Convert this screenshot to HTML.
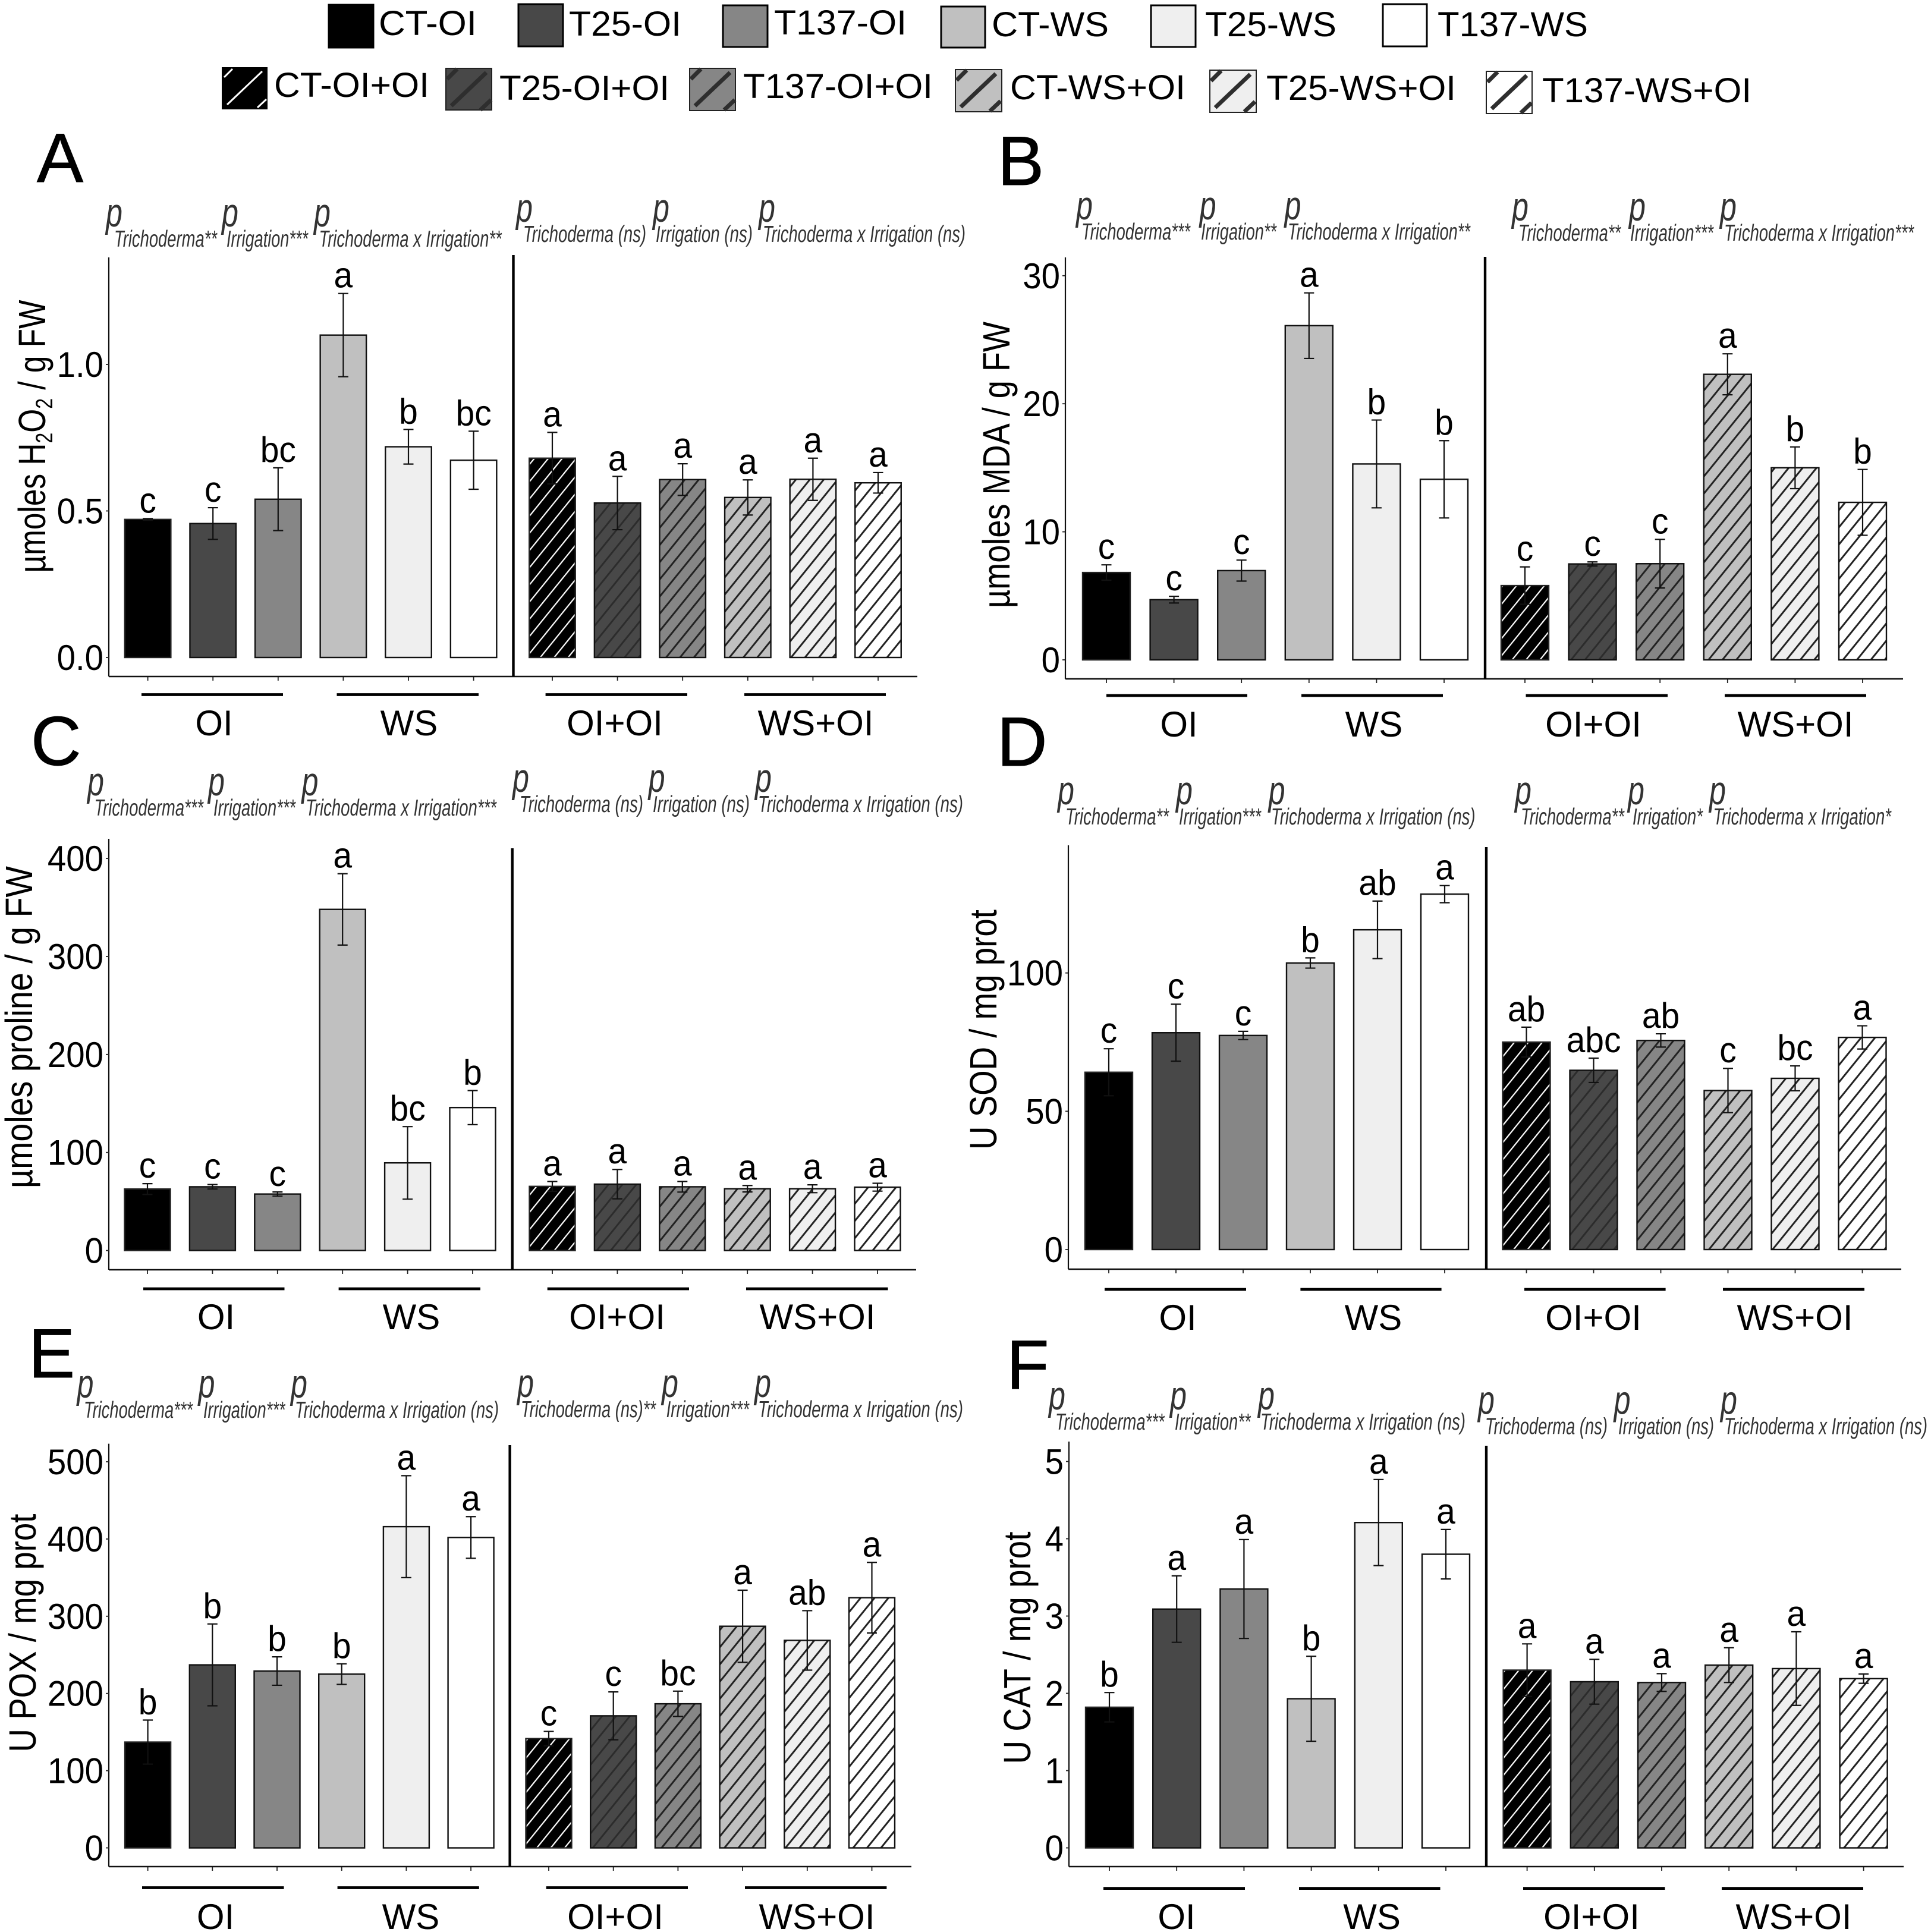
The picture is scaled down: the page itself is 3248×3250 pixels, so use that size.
<!DOCTYPE html>
<html lang="en">
<head>
<meta charset="utf-8">
<title>Trichoderma and irrigation effects on oxidative stress markers</title>
<style>
html,body{margin:0;padding:0;background:#fff;}
svg{display:block;}
text{font-family:"Liberation Sans",Arial,sans-serif;fill:#000;}
.lg{font-size:58px;}
.pl{font-size:68px;font-style:italic;fill:#333;}
.sb{font-size:39px;font-style:italic;fill:#333;}
.pn{font-size:117px;stroke:#000;stroke-width:1px;}
.yt{font-size:64px;text-anchor:middle;}
</style>
</head>
<body>
<svg id="figure" xmlns="http://www.w3.org/2000/svg" width="3248" height="3250" viewBox="0 0 3248 3250">
<rect x="0" y="0" width="3248" height="3250" fill="#fff"/>
<defs id="defs"></defs>

<g>
<g><rect x="553" y="8" width="75" height="72" fill="#000" stroke="#000" stroke-width="3"/><text class="lg" x="637" y="59" textLength="165" lengthAdjust="spacingAndGlyphs">CT-OI</text></g>
<g><rect x="872" y="7" width="75" height="71" fill="#484848" stroke="#000" stroke-width="3"/><text class="lg" x="957" y="60" textLength="189" lengthAdjust="spacingAndGlyphs">T25-OI</text></g>
<g><rect x="1216" y="9" width="75" height="70" fill="#868686" stroke="#000" stroke-width="3"/><text class="lg" x="1302" y="58" textLength="223" lengthAdjust="spacingAndGlyphs">T137-OI</text></g>
<g><rect x="1583" y="11" width="74" height="69" fill="#c0c0c0" stroke="#000" stroke-width="3"/><text class="lg" x="1668" y="61" textLength="197" lengthAdjust="spacingAndGlyphs">CT-WS</text></g>
<g><rect x="1936" y="9" width="75" height="70" fill="#efefef" stroke="#000" stroke-width="3"/><text class="lg" x="2027" y="61" textLength="221" lengthAdjust="spacingAndGlyphs">T25-WS</text></g>
<g><rect x="2326" y="7" width="74" height="71" fill="#fff" stroke="#000" stroke-width="3"/><text class="lg" x="2418" y="61" textLength="253" lengthAdjust="spacingAndGlyphs">T137-WS</text></g>

<g><g transform="translate(373,113)"><rect width="77" height="71" fill="#000"/><g stroke="#fff" stroke-width="3"><line x1="9" y1="63" x2="68" y2="7"/><line x1="4" y1="17" x2="18" y2="3"/><line x1="60" y1="68" x2="75" y2="54"/></g></g><text class="lg" x="461" y="163" textLength="261" lengthAdjust="spacingAndGlyphs">CT-OI+OI</text></g>
<g><g transform="translate(750,115)"><rect width="77" height="70" fill="#484848" stroke="#222" stroke-width="2"/><g stroke="#2e2e2e" stroke-width="7"><line x1="9" y1="63" x2="68" y2="7"/><line x1="2" y1="18" x2="19" y2="1"/><line x1="58" y1="70" x2="76" y2="53"/></g></g><text class="lg" x="840" y="168" textLength="286" lengthAdjust="spacingAndGlyphs">T25-OI+OI</text></g>
<g><g transform="translate(1160,115)"><rect width="77" height="71" fill="#868686" stroke="#222" stroke-width="2"/><g stroke="#2e2e2e" stroke-width="7"><line x1="9" y1="63" x2="68" y2="7"/><line x1="2" y1="18" x2="19" y2="1"/><line x1="58" y1="70" x2="76" y2="53"/></g></g><text class="lg" x="1250" y="165" textLength="319" lengthAdjust="spacingAndGlyphs">T137-OI+OI</text></g>
<g><g transform="translate(1607,117)"><rect width="78" height="71" fill="#c0c0c0" stroke="#222" stroke-width="2"/><g stroke="#2e2e2e" stroke-width="7"><line x1="9" y1="63" x2="68" y2="7"/><line x1="2" y1="18" x2="19" y2="1"/><line x1="58" y1="70" x2="76" y2="53"/></g></g><text class="lg" x="1699" y="167" textLength="295" lengthAdjust="spacingAndGlyphs">CT-WS+OI</text></g>
<g><g transform="translate(2035,118)"><rect width="78" height="71" fill="#efefef" stroke="#222" stroke-width="2"/><g stroke="#2e2e2e" stroke-width="7"><line x1="9" y1="63" x2="68" y2="7"/><line x1="2" y1="18" x2="19" y2="1"/><line x1="58" y1="70" x2="76" y2="53"/></g></g><text class="lg" x="2130" y="168" textLength="319" lengthAdjust="spacingAndGlyphs">T25-WS+OI</text></g>
<g><g transform="translate(2500,120)"><rect width="77" height="71" fill="#fff" stroke="#222" stroke-width="2"/><g stroke="#2e2e2e" stroke-width="7"><line x1="9" y1="63" x2="68" y2="7"/><line x1="2" y1="18" x2="19" y2="1"/><line x1="58" y1="70" x2="76" y2="53"/></g></g><text class="lg" x="2594" y="172" textLength="352" lengthAdjust="spacingAndGlyphs">T137-WS+OI</text></g>
</g>

<text class="pn" x="62" y="306">A</text>
<text class="pn" x="1678" y="311">B</text>
<text class="pn" x="52" y="1287">C</text>
<text class="pn" x="1677" y="1288">D</text>
<text class="pn" x="48" y="2317">E</text>
<text class="pn" x="1693" y="2336">F</text>

<text class="yt" id="title-a" data-length="459" transform="translate(76,734) rotate(-90)">µmoles H<tspan dy="12" font-size="40">2</tspan><tspan dy="-12">O</tspan><tspan dy="12" font-size="40">2</tspan><tspan dy="-12"> / g FW</tspan></text>
<text class="yt" id="title-b" data-length="482" transform="translate(1698,782) rotate(-90)">µmoles MDA / g FW</text>
<text class="yt" id="title-c" data-length="542" transform="translate(54,1728) rotate(-90)">µmoles proline / g FW</text>
<text class="yt" id="title-d" data-length="404" transform="translate(1676,1732) rotate(-90)">U SOD / mg prot</text>
<text class="yt" id="title-e" data-length="401" transform="translate(60,2747) rotate(-90)">U POX / mg prot</text>
<text class="yt" id="title-f" data-length="391" transform="translate(1733,2772) rotate(-90)">U CAT / mg prot</text>

<g>
<g><text class="pl" x="178" y="381" textLength="28" lengthAdjust="spacingAndGlyphs">p</text><text class="sb" x="192" y="415" textLength="173" lengthAdjust="spacingAndGlyphs">Trichoderma**</text></g>
<g><text class="pl" x="373" y="381" textLength="28" lengthAdjust="spacingAndGlyphs">p</text><text class="sb" x="381" y="415" textLength="137" lengthAdjust="spacingAndGlyphs">Irrigation***</text></g>
<g><text class="pl" x="528" y="381" textLength="28" lengthAdjust="spacingAndGlyphs">p</text><text class="sb" x="536.6" y="415" textLength="307" lengthAdjust="spacingAndGlyphs">Trichoderma x Irrigation**</text></g>
<g><text class="pl" x="868" y="373" textLength="28" lengthAdjust="spacingAndGlyphs">p</text><text class="sb" x="880" y="407" textLength="207" lengthAdjust="spacingAndGlyphs">Trichoderma (ns)</text></g>
<g><text class="pl" x="1098" y="373" textLength="28" lengthAdjust="spacingAndGlyphs">p</text><text class="sb" x="1103" y="407" textLength="163" lengthAdjust="spacingAndGlyphs">Irrigation (ns)</text></g>
<g><text class="pl" x="1276" y="373" textLength="28" lengthAdjust="spacingAndGlyphs">p</text><text class="sb" x="1283" y="407" textLength="341" lengthAdjust="spacingAndGlyphs">Trichoderma x Irrigation (ns)</text></g>
</g>
<g>
<g><text class="pl" x="1810" y="369" textLength="28" lengthAdjust="spacingAndGlyphs">p</text><text class="sb" x="1819" y="403" textLength="183" lengthAdjust="spacingAndGlyphs">Trichoderma***</text></g>
<g><text class="pl" x="2017.6" y="369" textLength="28" lengthAdjust="spacingAndGlyphs">p</text><text class="sb" x="2020" y="403" textLength="127" lengthAdjust="spacingAndGlyphs">Irrigation**</text></g>
<g><text class="pl" x="2160.5" y="369" textLength="28" lengthAdjust="spacingAndGlyphs">p</text><text class="sb" x="2166" y="403" textLength="307" lengthAdjust="spacingAndGlyphs">Trichoderma x Irrigation**</text></g>
<g><text class="pl" x="2543" y="371" textLength="28" lengthAdjust="spacingAndGlyphs">p</text><text class="sb" x="2554" y="405" textLength="172" lengthAdjust="spacingAndGlyphs">Trichoderma**</text></g>
<g><text class="pl" x="2740" y="371" textLength="28" lengthAdjust="spacingAndGlyphs">p</text><text class="sb" x="2742" y="405" textLength="140" lengthAdjust="spacingAndGlyphs">Irrigation***</text></g>
<g><text class="pl" x="2893" y="371" textLength="28" lengthAdjust="spacingAndGlyphs">p</text><text class="sb" x="2900" y="405" textLength="319" lengthAdjust="spacingAndGlyphs">Trichoderma x Irrigation***</text></g>
</g>
<g>
<g><text class="pl" x="147" y="1338" textLength="28" lengthAdjust="spacingAndGlyphs">p</text><text class="sb" x="158.5" y="1372" textLength="183.5" lengthAdjust="spacingAndGlyphs">Trichoderma***</text></g>
<g><text class="pl" x="350" y="1338" textLength="28" lengthAdjust="spacingAndGlyphs">p</text><text class="sb" x="359" y="1372" textLength="138" lengthAdjust="spacingAndGlyphs">Irrigation***</text></g>
<g><text class="pl" x="507.5" y="1338" textLength="28" lengthAdjust="spacingAndGlyphs">p</text><text class="sb" x="514" y="1372" textLength="321" lengthAdjust="spacingAndGlyphs">Trichoderma x Irrigation***</text></g>
<g><text class="pl" x="862" y="1332" textLength="28" lengthAdjust="spacingAndGlyphs">p</text><text class="sb" x="874" y="1366" textLength="208" lengthAdjust="spacingAndGlyphs">Trichoderma (ns)</text></g>
<g><text class="pl" x="1090.6" y="1332" textLength="28" lengthAdjust="spacingAndGlyphs">p</text><text class="sb" x="1098" y="1366" textLength="163" lengthAdjust="spacingAndGlyphs">Irrigation (ns)</text></g>
<g><text class="pl" x="1270" y="1332" textLength="28" lengthAdjust="spacingAndGlyphs">p</text><text class="sb" x="1275" y="1366" textLength="345" lengthAdjust="spacingAndGlyphs">Trichoderma x Irrigation (ns)</text></g>
</g>
<g>
<g><text class="pl" x="1779" y="1353" textLength="28" lengthAdjust="spacingAndGlyphs">p</text><text class="sb" x="1792" y="1387" textLength="174" lengthAdjust="spacingAndGlyphs">Trichoderma**</text></g>
<g><text class="pl" x="1978" y="1353" textLength="28" lengthAdjust="spacingAndGlyphs">p</text><text class="sb" x="1983" y="1387" textLength="138" lengthAdjust="spacingAndGlyphs">Irrigation***</text></g>
<g><text class="pl" x="2133.6" y="1353" textLength="28" lengthAdjust="spacingAndGlyphs">p</text><text class="sb" x="2138" y="1387" textLength="343.6" lengthAdjust="spacingAndGlyphs">Trichoderma x Irrigation (ns)</text></g>
<g><text class="pl" x="2548" y="1353" textLength="28" lengthAdjust="spacingAndGlyphs">p</text><text class="sb" x="2558" y="1387" textLength="174" lengthAdjust="spacingAndGlyphs">Trichoderma**</text></g>
<g><text class="pl" x="2738" y="1353" textLength="28" lengthAdjust="spacingAndGlyphs">p</text><text class="sb" x="2746" y="1387" textLength="118" lengthAdjust="spacingAndGlyphs">Irrigation*</text></g>
<g><text class="pl" x="2875" y="1353" textLength="28" lengthAdjust="spacingAndGlyphs">p</text><text class="sb" x="2881.5" y="1387" textLength="299.5" lengthAdjust="spacingAndGlyphs">Trichoderma x Irrigation*</text></g>
</g>
<g>
<g><text class="pl" x="129.5" y="2351" textLength="28" lengthAdjust="spacingAndGlyphs">p</text><text class="sb" x="141" y="2385" textLength="183" lengthAdjust="spacingAndGlyphs">Trichoderma***</text></g>
<g><text class="pl" x="333.5" y="2351" textLength="28" lengthAdjust="spacingAndGlyphs">p</text><text class="sb" x="342" y="2385" textLength="137.5" lengthAdjust="spacingAndGlyphs">Irrigation***</text></g>
<g><text class="pl" x="489" y="2351" textLength="28" lengthAdjust="spacingAndGlyphs">p</text><text class="sb" x="496" y="2385" textLength="343" lengthAdjust="spacingAndGlyphs">Trichoderma x Irrigation (ns)</text></g>
<g><text class="pl" x="870" y="2350" textLength="28" lengthAdjust="spacingAndGlyphs">p</text><text class="sb" x="876" y="2384" textLength="227" lengthAdjust="spacingAndGlyphs">Trichoderma (ns)**</text></g>
<g><text class="pl" x="1113" y="2350" textLength="28" lengthAdjust="spacingAndGlyphs">p</text><text class="sb" x="1120.6" y="2384" textLength="139.4" lengthAdjust="spacingAndGlyphs">Irrigation***</text></g>
<g><text class="pl" x="1269" y="2350" textLength="28" lengthAdjust="spacingAndGlyphs">p</text><text class="sb" x="1275" y="2384" textLength="345" lengthAdjust="spacingAndGlyphs">Trichoderma x Irrigation (ns)</text></g>
</g>
<g>
<g><text class="pl" x="1764" y="2371" textLength="28" lengthAdjust="spacingAndGlyphs">p</text><text class="sb" x="1775" y="2405" textLength="183.5" lengthAdjust="spacingAndGlyphs">Trichoderma***</text></g>
<g><text class="pl" x="1968" y="2371" textLength="28" lengthAdjust="spacingAndGlyphs">p</text><text class="sb" x="1976" y="2405" textLength="127.5" lengthAdjust="spacingAndGlyphs">Irrigation**</text></g>
<g><text class="pl" x="2116" y="2371" textLength="28" lengthAdjust="spacingAndGlyphs">p</text><text class="sb" x="2120" y="2405" textLength="345" lengthAdjust="spacingAndGlyphs">Trichoderma x Irrigation (ns)</text></g>
<g><text class="pl" x="2486" y="2378.6" textLength="28" lengthAdjust="spacingAndGlyphs">p</text><text class="sb" x="2498" y="2412.6" textLength="206" lengthAdjust="spacingAndGlyphs">Trichoderma (ns)</text></g>
<g><text class="pl" x="2714.6" y="2378.6" textLength="28" lengthAdjust="spacingAndGlyphs">p</text><text class="sb" x="2722" y="2412.6" textLength="161" lengthAdjust="spacingAndGlyphs">Irrigation (ns)</text></g>
<g><text class="pl" x="2894" y="2378.6" textLength="28" lengthAdjust="spacingAndGlyphs">p</text><text class="sb" x="2900" y="2412.6" textLength="342" lengthAdjust="spacingAndGlyphs">Trichoderma x Irrigation (ns)</text></g>
</g>
<g id="plots"></g>
</svg>

<script>
// ---- data ----
const treatments = ['CT-OI','T25-OI','T137-OI','CT-WS','T25-WS','T137-WS','CT-OI+OI','T25-OI+OI','T137-OI+OI','CT-WS+OI','T25-WS+OI','T137-WS+OI'];
const groupLabels = ['OI','WS','OI+OI','WS+OI'];

const aValues = [0.471,0.457,0.54,1.10,0.719,0.673,0.68,0.527,0.607,0.546,0.608,0.596];
const aErrors = [0.003,0.054,0.107,0.142,0.059,0.099,0.088,0.091,0.054,0.060,0.072,0.035];
const aLetters = ['c','c','bc','a','b','bc','a','a','a','a','a','a'];
const aTicks = [0,0.5,1];
const aTickLabels = ['0.0','0.5','1.0'];

const bValues = [6.82,4.70,6.97,26.1,15.3,14.1,5.8,7.49,7.51,22.3,15.0,12.3];
const bErrors = [0.6,0.26,0.82,2.56,3.43,3.02,1.46,0.16,1.9,1.6,1.63,2.57];
const bLetters = ['c','c','c','a','b','b','c','c','c','a','b','b'];
const bTicks = [0,10,20,30];
const bTickLabels = ['0','10','20','30'];

const cValues = [62.7,65,57.6,348,89.4,145.8,65.4,67.7,65,63,63,64.6];
const cErrors = [5.5,2.3,2.1,36.4,37,17.4,5,15,5.4,3.3,4,4];
const cLetters = ['c','c','c','a','bc','b','a','a','a','a','a','a'];
const cTicks = [0,100,200,300,400];
const cTickLabels = ['0','100','200','300','400'];

const dValues = [64.1,78.4,77.4,103.6,115.6,128.5,75,64.8,75.6,57.5,61.9,76.7];
const dErrors = [8.5,10.3,1.5,1.85,10.4,3.1,5.4,4.4,2.4,8,4.5,4.2];
const dLetters = ['c','c','c','b','ab','a','ab','abc','ab','c','bc','a'];
const dTicks = [0,50,100];
const dTickLabels = ['0','50','100'];

const eValues = [137,237,229,225,416,402,141.5,171,186.6,287,268.7,324];
const eErrors = [28.5,53,18.4,13.3,66,27,9.3,31,16.4,46.7,38.5,45.7];
const eLetters = ['b','b','b','b','a','a','c','c','bc','a','ab','a'];
const eTicks = [0,100,200,300,400,500];
const eTickLabels = ['0','100','200','300','400','500'];

const fValues = [1.82,3.09,3.35,1.93,4.21,3.80,2.30,2.15,2.14,2.365,2.32,2.19];
const fErrors = [0.19,0.43,0.64,0.55,0.557,0.32,0.34,0.29,0.115,0.225,0.476,0.06];
const fLetters = ['b','a','a','b','a','a','a','a','a','a','a','a'];
const fTicks = [0,1,2,3,4,5];
const fTickLabels = ['0','1','2','3','4','5'];

// ---- geometry & styling, separate from the data ----
const NS = 'http://www.w3.org/2000/svg';
const fills = ['#000','#484848','#868686','#c0c0c0','#efefef','#fff'];
const hatchPhase = [17,2,9,6,0,5];

const panels = [
 {key:'a',values:aValues,errors:aErrors,letters:aLetters,ticks:aTicks,tickLabels:aTickLabels,
  g:{axisX:183,axisY:1138,top:433,right:1543,sepX:863.5,sepTop:429,zero:1106,unit:493,c0:248.6,c1:929,step:109.6,bw:77.5,
     lineY:1168.5,lines:[[238,476],[566.5,805],[917.6,1156],[1252,1490]],lab:[360,688,1034,1372],labY:1237}},
 {key:'b',values:bValues,errors:bErrors,letters:bLetters,ticks:bTicks,tickLabels:bTickLabels,
  g:{axisX:1792,axisY:1142,top:433,right:3201,sepX:2498,sepTop:432,zero:1110,unit:21.54,c0:1861,c1:2565,step:113.6,bw:80,
     lineY:1170,lines:[[1861,2098],[2189,2427],[2566.5,2805],[2901,3139]],lab:[1983,2311,2680,3020],labY:1239}},
 {key:'c',values:cValues,errors:cErrors,letters:cLetters,ticks:cTicks,tickLabels:cTickLabels,
  g:{axisX:183,axisY:2136,top:1411,right:1541,sepX:861.7,sepTop:1427,zero:2103.6,unit:1.649,c0:248,c1:929,step:109.4,bw:77,
     lineY:2168,lines:[[241,478.5],[569.6,808],[920.7,1159],[1255,1493.5]],lab:[363.5,692,1038,1375],labY:2236}},
 {key:'d',values:dValues,errors:dErrors,letters:dLetters,ticks:dTicks,tickLabels:dTickLabels,
  g:{axisX:1797,axisY:2135,top:1422,right:3198,sepX:2500,sepTop:1425,zero:2102,unit:4.653,c0:1865,c1:2567.5,step:113,bw:80,
     lineY:2169,lines:[[1858,2096],[2187.4,2424.6],[2564,2801.6],[2898,3136]],lab:[1981,2310,2680,3019],labY:2237}},
 {key:'e',values:eValues,errors:eErrors,letters:eLetters,ticks:eTicks,tickLabels:eTickLabels,
  g:{axisX:183,axisY:3140,top:2428.6,right:1533,sepX:857.6,sepTop:2431,zero:3108.5,unit:1.299,c0:248.6,c1:923,step:108.7,bw:77,
     lineY:3175.5,lines:[[239,477.5],[567.6,805.8],[918.7,1157],[1253,1491.4]],lab:[362.5,691,1035,1374],labY:3245}},
 {key:'f',values:fValues,errors:fErrors,letters:fLetters,ticks:fTicks,tickLabels:fTickLabels,
  g:{axisX:1798,axisY:3140,top:2425,right:3202,sepX:2500,sepTop:2432,zero:3108.5,unit:130,c0:1866,c1:2568.6,step:113.2,bw:80,
     lineY:3176.6,lines:[[1856,2094],[2185,2422.5],[2562,2800.5],[2896,3134]],lab:[1979,2307.6,2677,3017],labY:3245}}
];

function make(tag, attrs, parent) {
  const el = document.createElementNS(NS, tag);
  for (const k in attrs) el.setAttribute(k, attrs[k]);
  if (parent) parent.appendChild(el);
  return el;
}

const defs = document.getElementById('defs');
const plots = document.getElementById('plots');

panels.forEach(function (p) {
  const g = p.g;
  const yScale = function (v) { return g.zero - v * g.unit; };
  const xScale = function (i) { return i < 6 ? g.c0 + i * g.step : g.c1 + (i - 6) * g.step; };

  const root = make('g', {}, plots);
  
  

  // bars
  p.values.forEach(function (v, i) {
    const x = xScale(i) - g.bw / 2;
    const top = yScale(v);
    const h = g.zero - top;
    const fill = fills[i % 6];

    const bar = make('g', {}, root);
    
    

    make('rect', {x: x, y: top, width: g.bw, height: h, fill: fill}, bar);
    if (i >= 6) {
      const pid = 'hatch-' + p.key + '-' + i;
      const col = i === 6 ? '#fff' : (i === 7 ? '#2c2c2c' : '#222');
      const lw = i === 6 ? 2.2 : 3;
      const pat = make('pattern', {id: pid, patternUnits: 'userSpaceOnUse', width: 18.2, height: 18.2,
        patternTransform: 'translate(' + (x + hatchPhase[i - 6]) + ',' + g.zero + ') rotate(39)'}, defs);
      make('rect', {x: 0, y: 0, width: lw, height: 18.2, fill: col}, pat);
      make('rect', {x: x, y: top, width: g.bw, height: h, fill: 'url(#' + pid + ')'}, bar);
    }
    make('rect', {x: x, y: top, width: g.bw, height: h, fill: 'none',
      stroke: i === 0 || i === 6 ? '#222' : '#111', 'stroke-width': 2.4}, bar);

    // error bar
    const yHi = yScale(v + p.errors[i]);
    const yLo = yScale(v - p.errors[i]);
    const cx = xScale(i);
    const err = make('path', {d: 'M' + (cx - 8.5) + ' ' + yHi + 'H' + (cx + 8.5) + 'M' + cx + ' ' + yHi + 'V' + yLo + 'M' + (cx - 8.5) + ' ' + yLo + 'H' + (cx + 8.5),
      fill: 'none', stroke: '#111', 'stroke-width': 2.2}, root);
    
    

    // significance letter
    const lt = make('text', {transform: 'translate(' + cx + ',' + (yHi - 10) + ') scale(0.95,1)', 'text-anchor': 'middle', 'font-size': 60}, root);
    lt.textContent = p.letters[i];
    
    

    // x tick
    const xt = make('line', {x1: cx, x2: cx, y1: g.axisY, y2: g.axisY + 7, stroke: '#222', 'stroke-width': 1.8}, root);
    
    
  });

  // y axis
  const ya = make('line', {x1: g.axisX, x2: g.axisX, y1: g.top, y2: g.axisY, stroke: '#111', 'stroke-width': 2.2}, root);
  
  

  // x axis
  const xa = make('line', {x1: g.axisX, x2: g.right, y1: g.axisY, y2: g.axisY, stroke: '#111', 'stroke-width': 2.6}, root);
  
  

  // separator
  const sp = make('line', {x1: g.sepX, x2: g.sepX, y1: g.sepTop, y2: g.axisY, stroke: '#000', 'stroke-width': 4.4}, root);
  
  

  // y ticks
  p.ticks.forEach(function (t, i) {
    const y = yScale(t);
    const tk = make('line', {x1: g.axisX - 5, x2: g.axisX, y1: y, y2: y, stroke: '#222', 'stroke-width': 1.8}, root);
    
    
    const tl = make('text', {transform: 'translate(' + (g.axisX - 9) + ',' + (y + 21) + ') scale(0.94,1)', 'text-anchor': 'end', 'font-size': 60}, root);
    tl.textContent = p.tickLabels[i];
    
    
  });

  // group brackets and labels
  groupLabels.forEach(function (label, i) {
    const ln = make('line', {x1: g.lines[i][0], x2: g.lines[i][1], y1: g.lineY, y2: g.lineY, stroke: '#000', 'stroke-width': 4.8}, root);
    
    
    const tx = make('text', {x: g.lab[i], y: g.labY, 'text-anchor': 'middle', 'font-size': 60}, root);
    tx.textContent = label;
    
    
  });
});

// fit rotated axis titles to their measured length
['a','b','c','d','e','f'].forEach(function (k) {
  const t = document.getElementById('title-' + k);
  const s = parseFloat(t.getAttribute('data-length')) / t.getComputedTextLength();
  t.setAttribute('transform', t.getAttribute('transform') + ' scale(' + s + ',1)');
});
</script>
</body>
</html>
